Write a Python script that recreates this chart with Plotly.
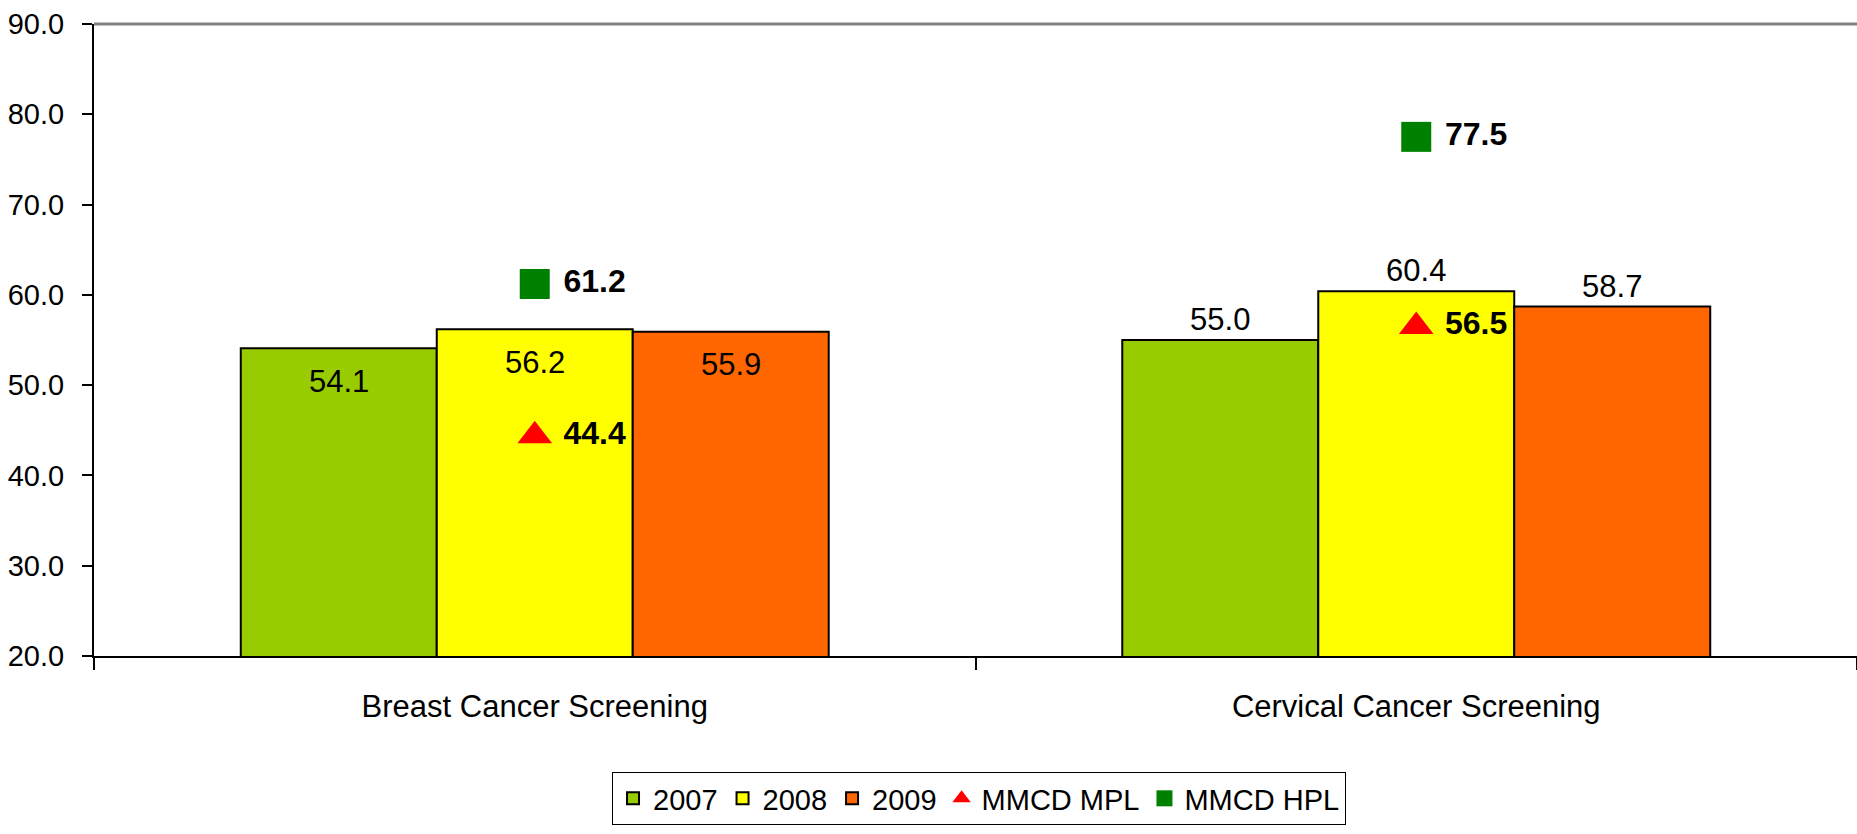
import plotly.graph_objects as go

categories = ["Breast Cancer Screening", "Cervical Cancer Screening"]
years = ["2007", "2008", "2009"]
vals_2007 = [54.1, 55.0]
vals_2008 = [56.2, 60.4]
vals_2009 = [55.9, 58.7]
mpl_vals = [44.4, 56.5]
hpl_vals = [61.2, 77.5]
bar_colors = ["#99CC00", "#FFFF00", "#FF6600"]
# value labels drawn inside the bar top (True) or above the bar (False), per category
label_inside = [True, False]
y_ticks = [20, 30, 40, 50, 60, 70, 80, 90]

FONT = "Liberation Sans, Arial, sans-serif"
W, H = 1857, 834
M_L, M_R, M_T, M_B = 94, 0, 24, 178
BARGAP = 0.333

series = [vals_2007, vals_2008, vals_2009]

fig = go.Figure()
for name, vals, col in zip(years, series, bar_colors):
    fig.add_trace(go.Bar(
        name=name, x=categories, y=vals,
        marker=dict(color=col, line=dict(color="black", width=2)),
        text=["" if ins else f"{v:.1f}" for v, ins in zip(vals, label_inside)],
        textposition="outside", constraintext="none",
        textfont=dict(size=31, color="black", family=FONT),
        cliponaxis=False,
    ))

fig.add_trace(go.Scatter(
    name="MMCD MPL", x=categories, y=mpl_vals, mode="markers+text",
    marker=dict(symbol="triangle-up", size=30, color="#FF0000"),
    text=[f"\u00a0<b>{v:.1f}</b>" for v in mpl_vals], textposition="middle right",
    textfont=dict(size=32, color="black", family=FONT),
))
fig.add_trace(go.Scatter(
    name="MMCD HPL", x=categories, y=hpl_vals, mode="markers+text",
    marker=dict(symbol="square", size=30, color="#008000"),
    text=[f"\u00a0<b>{v:.1f}</b>" for v in hpl_vals], textposition="middle right",
    textfont=dict(size=32, color="black", family=FONT),
))

# labels placed inside the top of the bars (from the data values)
plot_w = W - M_L - M_R
bar_px = plot_w / len(categories) * (1 - BARGAP) / len(years)
annotations = []
for j, vals in enumerate(series):
    for i, cat in enumerate(categories):
        if label_inside[i]:
            annotations.append(dict(
                x=cat, y=vals[i], xref="x", yref="y", text=f"{vals[i]:.1f}",
                showarrow=False, yanchor="middle", yshift=-33,
                xshift=(j - 1) * bar_px,
                font=dict(size=31, color="black", family=FONT),
            ))

fig.update_layout(
    width=W, height=H, autosize=False,
    margin=dict(l=M_L, r=M_R, t=M_T, b=M_B),
    plot_bgcolor="white", paper_bgcolor="white",
    barmode="group", bargap=BARGAP, bargroupgap=0,
    font=dict(family=FONT, color="black", size=28),
    showlegend=True,
    legend=dict(
        orientation="h", x=0.502, xanchor="center", y=-0.1835, yanchor="top",
        bordercolor="black", borderwidth=1, font=dict(size=29, family=FONT),
        itemsizing="trace", traceorder="normal",
    ),
    xaxis=dict(
        type="category", showline=True, linecolor="black", linewidth=2,
        ticks="outside", tickson="boundaries", ticklen=12, tickwidth=1.5,
        tickcolor="black", showgrid=False, ticklabelstandoff=22,
        tickfont=dict(size=31, family=FONT), zeroline=False,
    ),
    yaxis=dict(
        range=[20, 90], tickvals=y_ticks, tickformat=".1f",
        showline=True, linecolor="black", linewidth=2,
        ticks="outside", ticklen=10, tickwidth=1.5, tickcolor="black",
        showgrid=False, zeroline=False, ticklabelstandoff=12,
        tickfont=dict(size=29, family=FONT),
    ),
    annotations=annotations,
    shapes=[dict(type="line", xref="paper", yref="paper", x0=0, x1=1, y0=1, y1=1,
                 line=dict(color="#808080", width=3), layer="above")],
)

fig.write_html("out.html", config={"displayModeBar": False},
               post_script="document.body.style.margin='0';")
